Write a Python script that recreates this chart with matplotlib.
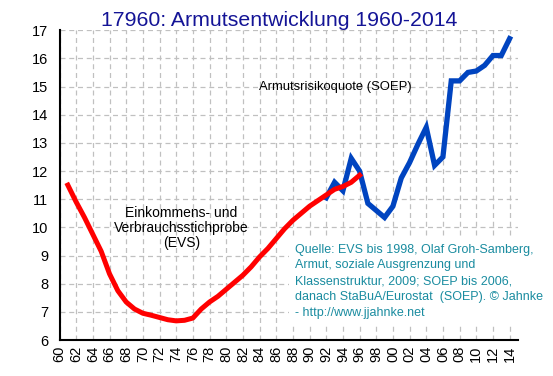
import matplotlib
matplotlib.use("Agg")
import matplotlib.pyplot as plt

plt.rcParams['font.family'] = ['Liberation Sans', 'DejaVu Sans']

# EVS (red)
evs_years = list(range(1961, 1997))
evs_values = [11.5, 10.9, 10.35, 9.75, 9.15, 8.35, 7.75, 7.35, 7.1, 6.95,
              6.88, 6.8, 6.72, 6.68, 6.7, 6.78, 7.1, 7.35, 7.55, 7.8,
              8.05, 8.3, 8.6, 8.95, 9.25, 9.6, 9.95, 10.25, 10.5, 10.75,
              10.95, 11.15, 11.35, 11.45, 11.6, 11.85]

# SOEP (blue)
soep_years = list(range(1992, 2015))
soep_values = [11.05, 11.6, 11.3, 12.45, 12.0, 10.85, 10.6, 10.35, 10.75, 11.75,
               12.3, 12.95, 13.55, 12.2, 12.5, 15.2, 15.2, 15.5, 15.55, 15.75,
               16.1, 16.1, 16.7]

xticks = list(range(1960, 2015, 2))
xlabels = [f"{y % 100:02d}" for y in xticks]
yticks = list(range(6, 18))

fig = plt.figure(figsize=(5.53, 3.76), dpi=100)
ax = fig.add_axes([0.1076, 0.0957, 0.829, 0.824])

ax.plot(soep_years, soep_values, color="#0044c0", lw=3.8, solid_joinstyle="miter", zorder=3)
ax.plot(evs_years, evs_values, color="#ff0000", lw=3.6, zorder=4)

ax.set_xlim(1960, 2015)
ax.set_ylim(6, 17)
ax.set_xticks(xticks)
ax.set_xticklabels(xlabels, rotation=90, fontsize=10.5)
ax.set_yticks(yticks)
ax.set_yticklabels([str(v) for v in yticks], fontsize=10.5)
ax.tick_params(length=0)
ax.tick_params(axis="y", pad=8)
ax.tick_params(axis="x", pad=4)

ax.grid(True, color="#c0c0c0", linestyle=(0, (4, 3)), linewidth=0.9)
ax.set_axisbelow(True)
for side in ("top", "right"):
    ax.spines[side].set_visible(False)
for side in ("left", "bottom"):
    ax.spines[side].set_color("black")
    ax.spines[side].set_linewidth(1.5)

fig.text(0.505, 0.945, "17960: Armutsentwicklung 1960-2014", ha="center", va="center",
         fontsize=15.3, color="#141496")

ax.text(1993.1, 15.0, "Armutsrisikoquote (SOEP)", ha="center", va="center", fontsize=9.4)
ax.text(1974.6, 9.97, "Einkommens- und\nVerbrauchsstichprobe\n(EVS)", ha="center", va="center",
        fontsize=10, linespacing=1.1)
ax.text(1988.3, 9.42,
        "Quelle: EVS bis 1998, Olaf Groh-Samberg,\nArmut, soziale Ausgrenzung und\n"
        "Klassenstruktur, 2009; SOEP bis 2006,\ndanach StaBuA/Eurostat  (SOEP). \u00a9 Jahnke\n"
        "- http://www.jjahnke.net",
        ha="left", va="top", fontsize=9.0, color="#1a8ca0", linespacing=1.42, zorder=2,
        bbox=dict(boxstyle="square,pad=0.55", facecolor="white", edgecolor="none"))

fig.savefig("out.png", dpi=100)
